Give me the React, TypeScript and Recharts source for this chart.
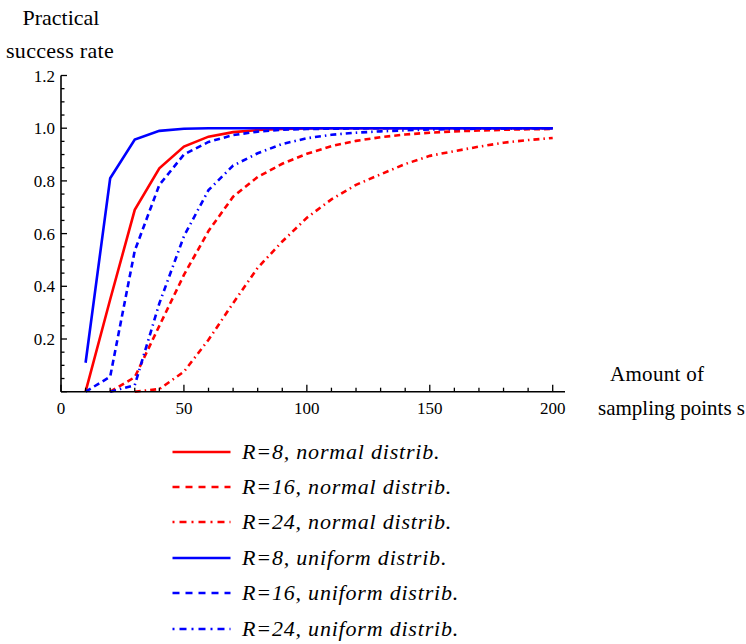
import React from 'react';
import { LineChart, Line, XAxis, YAxis, Legend } from 'recharts';

// sampling points s
const xValues = [10, 20, 30, 40, 50, 60, 70, 80, 90, 100, 110, 120, 130, 140, 150, 160, 170, 180, 190, 200];

// practical success rate
const r8Normal = [0, 0.35, 0.69, 0.848, 0.93, 0.968, 0.985, 0.993, 0.997, 0.999, 1, 1, 1, 1, 1, 1, 1, 1, 1, 1];
const r16Normal = [null, 0, 0.055, 0.25, 0.443, 0.61, 0.74, 0.815, 0.865, 0.903, 0.932, 0.952, 0.966, 0.976, 0.983, 0.988, 0.991, 0.994, 0.996, 0.997];
const r24Normal = [null, null, 0, 0.01, 0.076, 0.197, 0.336, 0.47, 0.57, 0.66, 0.73, 0.785, 0.825, 0.864, 0.895, 0.913, 0.93, 0.945, 0.955, 0.963];
const r8Uniform = [0.11, 0.81, 0.957, 0.99, 0.998, 1, 1, 1, 1, 1, 1, 1, 1, 1, 1, 1, 1, 1, 1, 1];
const r16Uniform = [0, 0.057, 0.535, 0.785, 0.9, 0.948, 0.974, 0.987, 0.994, 0.997, 0.998, 0.999, 1, 1, 1, 1, 1, 1, 1, 1];
const r24Uniform = [null, 0, 0.025, 0.335, 0.59, 0.765, 0.858, 0.905, 0.94, 0.962, 0.975, 0.983, 0.988, 0.992, 0.995, 0.997, 0.998, 0.999, 1, 1];

const xTicks = [0, 10, 20, 30, 40, 50, 60, 70, 80, 90, 100, 110, 120, 130, 140, 150, 160, 170, 180, 190, 200];
const yTicks = [0, 0.05, 0.1, 0.15, 0.2, 0.25, 0.3, 0.35, 0.4, 0.45, 0.5, 0.55, 0.6, 0.65, 0.7, 0.75, 0.8, 0.85, 0.9, 0.95, 1.0, 1.05, 1.1, 1.15, 1.2];

const RED = '#ff0000';
const BLUE = '#0000ff';
const FONT = '"Liberation Serif", "DejaVu Serif", serif';

const series = [
  { key: 'r8n', name: 'R=8, normal distrib.', color: RED, dash: undefined, legendDash: undefined, values: r8Normal },
  { key: 'r16n', name: 'R=16, normal distrib.', color: RED, dash: '6 4', legendDash: '7 6', values: r16Normal },
  { key: 'r24n', name: 'R=24, normal distrib.', color: RED, dash: '6 4 1.5 4', legendDash: '2 5 7 5', values: r24Normal },
  { key: 'r8u', name: 'R=8, uniform distrib.', color: BLUE, dash: undefined, legendDash: undefined, values: r8Uniform },
  { key: 'r16u', name: 'R=16, uniform distrib.', color: BLUE, dash: '6 4', legendDash: '7 6', values: r16Uniform },
  { key: 'r24u', name: 'R=24, uniform distrib.', color: BLUE, dash: '6 4 1.5 4', legendDash: '2 5 7 5', values: r24Uniform },
];

const data = xValues.map((x, i) => {
  const row: Record<string, number | null> = { x };
  series.forEach((s) => {
    row[s.key] = s.values[i];
  });
  return row;
});

const XTick = (props: any) => {
  const { x, y, payload } = props;
  const major = payload.value % 50 === 0;
  return (
    <g>
      <line x1={x} y1={y} x2={x} y2={y - (major ? 7 : 4)} stroke="#000" strokeWidth={1.3} />
      {major && (
        <text x={x} y={y + 22} textAnchor="middle" fontFamily={FONT} fontSize={17} fill="#000">
          {payload.value}
        </text>
      )}
    </g>
  );
};

const YTick = (props: any) => {
  const { x, y, payload } = props;
  const major = Math.abs(payload.value * 5 - Math.round(payload.value * 5)) < 1e-6;
  return (
    <g>
      <line x1={x} y1={y} x2={x + (major ? 6 : 3.5)} y2={y} stroke="#000" strokeWidth={1.3} />
      {major && payload.value > 0 && (
        <text x={x - 6} y={y} dy="0.36em" textAnchor="end" fontFamily={FONT} fontSize={17} fill="#000">
          {payload.value.toFixed(1)}
        </text>
      )}
    </g>
  );
};

const YTitle = (props: any) => {
  const { viewBox } = props;
  const cx = viewBox.x + viewBox.width;
  return (
    <g fontFamily={FONT} fontSize={22} fill="#000">
      <text x={cx} y={25} textAnchor="middle">Practical</text>
      <text x={cx - 1} y={58} textAnchor="middle" letterSpacing={0.3}>success rate</text>
    </g>
  );
};

const XTitle = (props: any) => {
  const { viewBox } = props;
  const right = viewBox.x + viewBox.width;
  return (
    <g fontFamily={FONT} fontSize={21} fill="#000">
      <text x={right + 45} y={381} letterSpacing={0.3}>Amount of</text>
      <text x={right + 33} y={415}>sampling points s</text>
    </g>
  );
};

const LegendBox = () => (
  <div style={{ fontFamily: FONT, fontSize: 22, fontStyle: 'italic', color: '#000', letterSpacing: '0.8px' }}>
    {series.map((s) => (
      <div key={s.key} style={{ display: 'flex', alignItems: 'center', height: 35.4 }}>
        <svg width={70} height={20}>
          <line x1={7.5} y1={10} x2={65.5} y2={10} stroke={s.color} strokeWidth={2.6} strokeDasharray={s.legendDash} />
        </svg>
        <span style={{ marginLeft: 7, whiteSpace: 'nowrap' }}>{s.name}</span>
      </div>
    ))}
  </div>
);

export default function App() {
  return (
    <div style={{ position: 'absolute', left: 0, top: 0, width: 746, height: 644, background: '#fff' }}>
      <LineChart
        width={746}
        height={644}
        data={data}
        margin={{ top: 75.5, right: 181, left: 0, bottom: 222.3 }}
      >
        <XAxis
          dataKey="x"
          type="number"
          domain={[0, 205]}
          ticks={xTicks}
          interval={0}
          tickSize={0}
          tickMargin={0}
          tickLine={false}
          tick={<XTick />}
          height={30}
          axisLine={{ stroke: '#000', strokeWidth: 1.6 }}
          label={<XTitle />}
        />
        <YAxis
          type="number"
          domain={[0, 1.2]}
          ticks={yTicks}
          interval={0}
          tickSize={0}
          tickMargin={0}
          tickLine={false}
          tick={<YTick />}
          width={61}
          axisLine={{ stroke: '#000', strokeWidth: 1.6 }}
          label={<YTitle />}
        />
        <Legend
          layout="vertical"
          align="center"
          verticalAlign="middle"
          content={<LegendBox />}
          wrapperStyle={{ top: 434, left: 165, width: 440 }}
        />
        {series.map((s) => (
          <Line
            key={s.key}
            dataKey={s.key}
            name={s.name}
            type="linear"
            stroke={s.color}
            strokeWidth={2.6}
            strokeDasharray={s.dash}
            dot={false}
            activeDot={false}
            isAnimationActive={false}
          />
        ))}
      </LineChart>
    </div>
  );
}
